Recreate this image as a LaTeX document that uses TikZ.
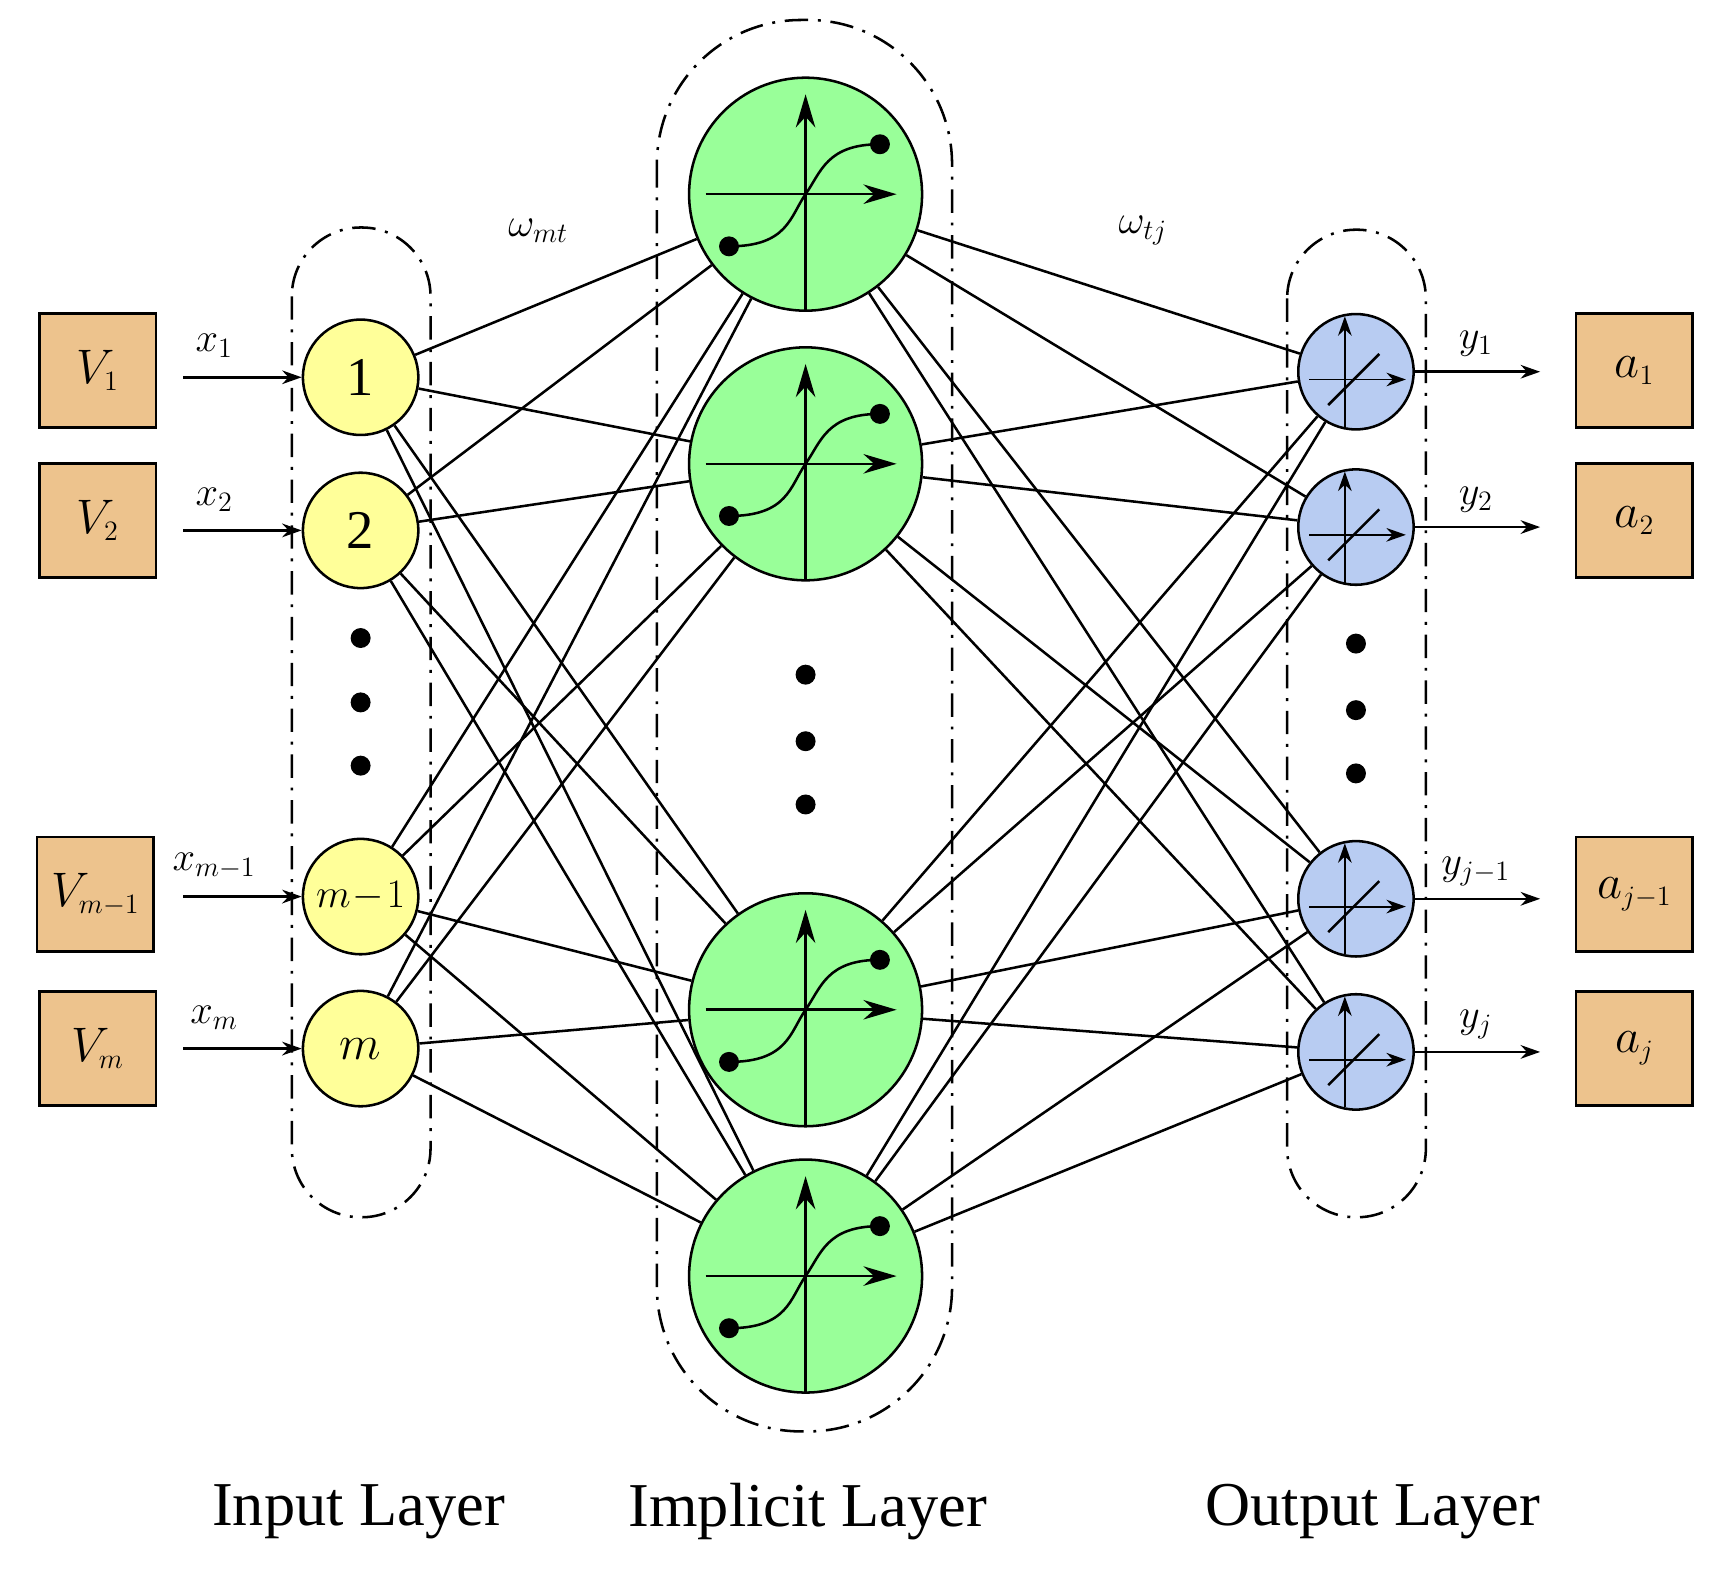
\documentclass[tikz,border=0pt]{standalone}
\usepackage{fontspec}
\setmainfont{Liberation Serif}
\usetikzlibrary{arrows.meta}
\definecolor{boxc}{HTML}{EDC38D}
\definecolor{inc}{HTML}{FFFF99}
\definecolor{hidc}{HTML}{99FF99}
\definecolor{outc}{HTML}{B8CCF2}
\begin{document}
\begin{tikzpicture}[x=0.02cm,y=-0.02cm,line width=1.3pt,
  box/.style={draw,fill=boxc,minimum width=2.1cm,minimum height=2.06cm,inner sep=0pt,font=\fontsize{28}{30}\selectfont},
  inn/.style={circle,draw,fill=inc,minimum size=2.08cm,inner sep=0pt,font=\fontsize{28}{30}\selectfont},
  hid/.style={circle,draw,fill=hidc,minimum size=4.2cm,inner sep=0pt},
  outn/.style={circle,draw,fill=outc,minimum size=2.08cm,inner sep=0pt},
  arr/.style={-{Stealth[length=10pt,width=7pt]}},
  harr/.style={-{Stealth[length=17pt,width=10pt]}},
  encl/.style={dash pattern=on 12pt off 5pt on 1.5pt off 5pt,line width=1.3pt},
  lab/.style={font=\fontsize{20}{22}\selectfont},
  dot/.style={circle,fill,inner sep=0pt,minimum size=0.36cm},
  big/.style={font=\fontsize{32}{34}\selectfont}]
\useasboundingbox (0,0) rectangle (1560,1414);
% enclosures
\draw[encl,rounded corners=1.24cm] (263,205) rectangle (388,1097);
\draw[encl,rounded corners=2.6cm] (592,18) rectangle (858,1290);
\draw[encl,rounded corners=1.24cm] (1160,207) rectangle (1285,1097);
% boxes
\node[box] (v1) at (88,334) {$V_{\scriptscriptstyle 1}$};
\node[box] (v2) at (88,469) {$V_{\scriptscriptstyle 2}$};
\node[box] (v3) at (86,806) {$V_{\scriptscriptstyle m-1}$};
\node[box] (v4) at (88,945) {$V_{\scriptscriptstyle m}$};
\node[box] (a1) at (1473,334) {$a_{\scriptscriptstyle 1}$};
\node[box] (a2) at (1473,469) {$a_{\scriptscriptstyle 2}$};
\node[box] (a3) at (1473,806) {$a_{\scriptscriptstyle j-1}$};
\node[box] (a4) at (1473,945) {$a_{\scriptscriptstyle j}$};
% input nodes
\node[inn] (i1) at (325,340) {1};
\node[inn] (i2) at (325,478) {2};
\node[inn,font=\fontsize{20}{22}\selectfont] (i3) at (325,808) {$m\!-\!1$};
\node[inn] (i4) at (325,945) {$m$};
% hidden
\foreach \n/\y in {1/175,2/418,3/910,4/1150}{
  \node[hid] (h\n) at (726,\y) {};
}
% output
\foreach \n/\y in {1/335,2/475,3/810,4/948}{
  \node[outn] (o\n) at (1222,\y) {};
}
% connections
\foreach \i in {1,...,4}{\foreach \h in {1,...,4}{\draw (i\i) -- (h\h);}}
\foreach \h in {1,...,4}{\foreach \o in {1,...,4}{\draw (h\h) -- (o\o);}}
% glyphs
\foreach \n/\y in {1/175,2/418,3/910,4/1150}{
  \draw[harr] (636,\y) -- (808,\y);
  \draw[harr] (726,\y+105) -- (726,\y-90);
  \draw (657,\y+47) .. controls (710,\y+47) and (712,\y+20) .. (726,\y)
        .. controls (740,\y-20) and (745,\y-45) .. (793,\y-45);
  \node[dot] at (657,\y+47) {};
  \node[dot] at (793,\y-45) {};
}
\foreach \n/\y in {1/335,2/475,3/810,4/948}{
  \draw[arr,line width=1pt] (1180,\y+7) -- (1267,\y+7);
  \draw[arr,line width=1pt] (1212,\y+50) -- (1212,\y-50);
  \draw[line width=1.3pt] (1197,\y+30) -- (1243,\y-16);
}
% input arrows
\foreach \n/\y/\l in {1/340/x_{1},2/478/x_{2},3/808/x_{m-1},4/945/x_{m}}{
  \coordinate (s\n) at (165,\y);
  \draw[arr] (s\n) -- (i\n.west);
  \node[lab] at (193,\y-28) {$\l$};
}
\foreach \n/\y/\l in {1/335/y_{1},2/475/y_{2},3/810/y_{j-1},4/948/y_{j}}{
  \coordinate (e\n) at (1388,\y);
  \draw[arr] (o\n.east) -- (e\n);
  \node[lab] at (1330,\y-25) {$\l$};
}
% dots
\foreach \y in {575,633,690}{\node[dot] at (325,\y) {};}
\foreach \y in {608,668,725}{\node[dot] at (726,\y) {};}
\foreach \y in {580,640,697}{\node[dot] at (1222,\y) {};}
\node[lab] at (485,208) {$\omega_{mt}$};
\node[lab] at (1030,208) {$\omega_{tj}$};
\node[big] at (323,1362) {Input Layer};
\node[big] at (728,1362) {Implicit Layer};
\node[big] at (1237,1362) {Output Layer};
\end{tikzpicture}
\end{document}
